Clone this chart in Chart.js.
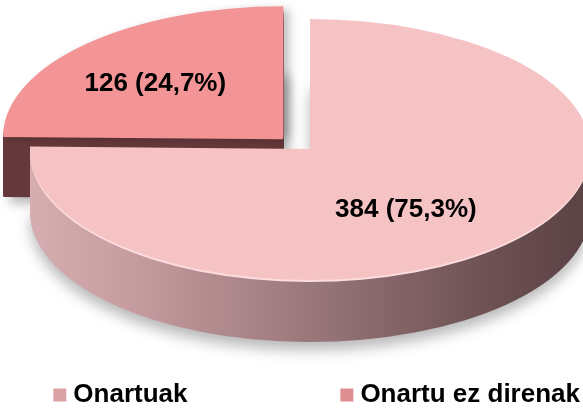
<!DOCTYPE html>
<html>
<head>
<meta charset="utf-8">
<script src="https://cdn.jsdelivr.net/npm/chart.js@4.4.1/dist/chart.umd.min.js"></script>
<style>
html,body{margin:0;padding:0;background:#ffffff;}
canvas{display:block;}
</style>
</head>
<body>
<canvas id="c" width="583" height="408"></canvas>
<script>
// ---- data ----
const categories = ['Onartuak', 'Onartu ez direnak'];
const values = [384, 126];

// ---- styles ----
const topColors = ['#f6c3c5', '#f39496'];
const rimColors = ['#fcdcdd', '#f39496'];
const legendColors = ['#d9a3a6', '#dc8e90'];
const FONT = '"Liberation Sans", Arial, Helvetica, sans-serif';
const GEOM = {cx: 310, cy: 152, rx: 280, ry: 130, depth: 60};
const LABEL_POS = [[0.489, 0.625], [0.652, 0.596]];

function fmtLabel(v, total) {
  const pct = (v / total * 100).toFixed(1).replace('.', ',');
  return v + ' (' + pct + '%)';
}

const pie3d = {
  id: 'pie3d',
  beforeDatasetsDraw(chart) {
    const meta = chart.getDatasetMeta(0);
    const arcs = meta.data;
    const ctx = chart.ctx;
    const R = arcs[0].outerRadius, ex = arcs[0].x, ey = arcs[0].y;
    const sx = GEOM.rx / R, sy = GEOM.ry / R;
    const apply = (d) => {
      ctx.translate(GEOM.cx, GEOM.cy + d);
      ctx.scale(sx, sy);
      ctx.translate(-ex, -ey);
    };
    const gBig = ctx.createLinearGradient(ex - R, 0, ex + R, 0);
    gBig.addColorStop(0, '#d6adb0');
    gBig.addColorStop(0.2, '#c49a9e');
    gBig.addColorStop(0.5, '#9a777a');
    gBig.addColorStop(0.8, '#6f5355');
    gBig.addColorStop(1, '#5a4143');
    const gSmall = '#66393b';
    const sideFills = [gBig, gSmall];
    const shadows = [
      {c: 'rgba(0,0,0,0.28)', b: 14, x: 0, y: 8},
      {c: 'rgba(0,0,0,0.30)', b: 12, x: 6, y: 6}
    ];
    const drawLayer = (arc, orig, d, fill) => {
      ctx.save();
      apply(d);
      arc.options = Object.assign({}, orig, {backgroundColor: fill, borderWidth: 0});
      arc.draw(ctx);
      ctx.restore();
    };
    [1, 0].forEach(i => {
      const arc = arcs[i];
      const orig = arc.options;
      for (let d = GEOM.depth; d >= 1; d--) {
        ctx.save();
        if (d === GEOM.depth) {
          const s = shadows[i];
          ctx.shadowColor = s.c; ctx.shadowBlur = s.b;
          ctx.shadowOffsetX = s.x; ctx.shadowOffsetY = s.y;
        }
        apply(d);
        arc.options = Object.assign({}, orig, {backgroundColor: sideFills[i], borderWidth: 0});
        arc.draw(ctx);
        ctx.restore();
      }
      // top face with soft rim highlight
      ctx.save();
      if (i === 1) {
        ctx.shadowColor = 'rgba(0,0,0,0.25)'; ctx.shadowBlur = 10;
        ctx.shadowOffsetX = 6; ctx.shadowOffsetY = 0;
      }
      drawLayer(arc, orig, 0, rimColors[i]);
      ctx.restore();
      drawLayer(arc, orig, -2, topColors[i]);
      drawLayer(arc, orig, -3, orig.backgroundColor);
      arc.options = orig;
    });
    // labels
    const total = values.reduce((a, b) => a + b, 0);
    ctx.save();
    ctx.fillStyle = '#000';
    ctx.font = 'bold 26px ' + FONT;
    ctx.textAlign = 'center';
    ctx.textBaseline = 'middle';
    arcs.forEach((arc, i) => {
      const mid = (arc.startAngle + arc.endAngle) / 2;
      const o = (arc.options.offset || 0) / 4;
      const fix = 1 - Math.sin(Math.min(Math.PI, arc.circumference || 0));
      const off = o + o * fix;
      const px = GEOM.cx + Math.cos(mid) * off * sx;
      const py = GEOM.cy + Math.sin(mid) * off * sy;
      const lx = px + Math.cos(mid) * LABEL_POS[i][0] * GEOM.rx;
      const ly = py + Math.sin(mid) * LABEL_POS[i][1] * GEOM.ry;
      ctx.fillText(fmtLabel(values[i], total), lx, ly);
    });
    ctx.restore();
    return false;
  }
};

new Chart(document.getElementById('c'), {
  type: 'pie',
  data: {
    labels: categories,
    datasets: [{
      data: values,
      backgroundColor: topColors,
      borderWidth: 0,
      offset: [0, 82]
    }]
  },
  options: {
    responsive: false,
    animation: false,
    events: [],
    layout: {padding: {left: 0, right: 3, top: 0, bottom: -10}},
    plugins: {
      tooltip: {enabled: false},
      legend: {
        position: 'bottom',
        align: 'end',
        labels: {
          usePointStyle: true,
          boxWidth: 1,
          boxHeight: 13,
          padding: 0,
          color: '#000',
          font: {family: FONT, size: 26, weight: 'bold'},
          generateLabels(chart) {
            const items = Chart.overrides.pie.plugins.legend.labels.generateLabels(chart);
            items.forEach((it, i) => {
              it.text = i < items.length - 1 ? categories[i] + ' '.repeat(22) : categories[i];
              it.fillStyle = legendColors[i];
              it.strokeStyle = legendColors[i];
              it.lineWidth = 0;
              it.pointStyle = 'rect';
            });
            return items;
          }
        }
      }
    }
  },
  plugins: [pie3d]
});
</script>
</body>
</html>
